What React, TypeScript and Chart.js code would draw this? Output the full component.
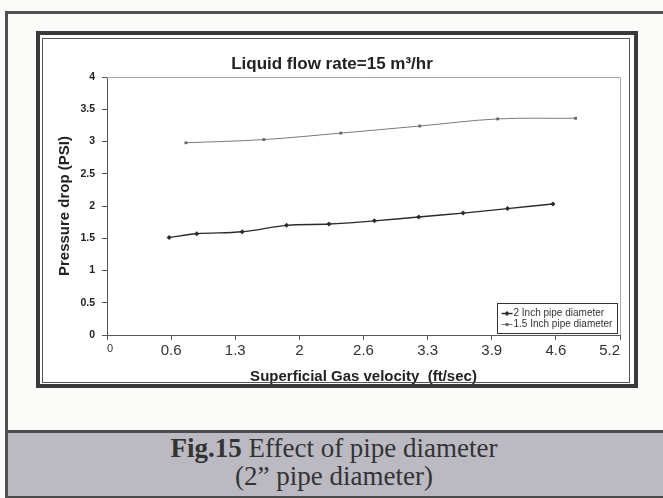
import React, { useEffect, useRef } from "react";
import { Chart, registerables } from "chart.js";

Chart.register(...registerables);

// ---- data ----
const chartTitle = "Liquid flow rate=15 m³/hr";
const xAxisTitle = "Superficial Gas velocity  (ft/sec)";
const yAxisTitle = "Pressure drop (PSI)";

const xTickValues = [0, 0.65, 1.3, 1.95, 2.6, 3.25, 3.9, 4.55, 5.2];
const xTickLabels = ["0", "0.6", "1.3", "2", "2.6", "3.3", "3.9", "4.6", "5.2"];
const yTickLabels = ["0", "0.5", "1", "1.5", "2", "2.5", "3", "3.5", "4"];

const series2InchLabel = "2 Inch pipe diameter";
const series2InchX = [0.63, 0.91, 1.37, 1.82, 2.25, 2.71, 3.16, 3.61, 4.06, 4.52];
const series2InchY = [1.51, 1.57, 1.6, 1.7, 1.72, 1.77, 1.83, 1.89, 1.96, 2.03];

const series15InchLabel = "1.5 Inch pipe diameter";
const series15InchX = [0.8, 1.59, 2.37, 3.17, 3.96, 4.75];
const series15InchY = [2.98, 3.03, 3.13, 3.24, 3.35, 3.36];

const captionBold = "Fig.15";
const captionRest = " Effect of pipe diameter";
const captionLine2 = "(2\u201D pipe diameter)";

const FONT = '"Liberation Sans", Arial, Helvetica, sans-serif';

const plotFramePlugin = {
  id: "plotFrame",
  beforeDatasetsDraw(chart: any) {
    const { ctx, chartArea } = chart;
    ctx.save();
    ctx.strokeStyle = "#a8a8a8";
    ctx.lineWidth = 1;
    ctx.beginPath();
    ctx.moveTo(chartArea.left, Math.round(chartArea.top) + 0.5);
    ctx.lineTo(Math.round(chartArea.right) + 0.5, Math.round(chartArea.top) + 0.5);
    ctx.lineTo(Math.round(chartArea.right) + 0.5, chartArea.bottom);
    ctx.stroke();
    ctx.restore();
  },
};

const boxLegendPlugin = {
  id: "boxLegend",
  afterDraw(chart: any) {
    const { ctx, chartArea } = chart;
    const w = 120;
    const h = 30;
    const x0 = Math.round(chartArea.right) - 123 + 0.5;
    const y0 = Math.round(chartArea.bottom) - 32 + 0.5;
    ctx.save();
    ctx.fillStyle = "#ffffff";
    ctx.fillRect(x0, y0, w, h);
    ctx.strokeStyle = "#333";
    ctx.lineWidth = 1;
    ctx.strokeRect(x0, y0, w, h);
    chart.data.datasets.forEach((ds: any, i: number) => {
      const cy = y0 + 10 + i * 11;
      ctx.strokeStyle = ds.borderColor;
      ctx.lineWidth = ds.borderWidth;
      ctx.beginPath();
      ctx.moveTo(x0 + 4, cy);
      ctx.lineTo(x0 + 15, cy);
      ctx.stroke();
      ctx.fillStyle = ds.backgroundColor;
      if (ds.pointStyle === "rectRot") {
        ctx.beginPath();
        ctx.moveTo(x0 + 9.5, cy - 2.5);
        ctx.lineTo(x0 + 12, cy);
        ctx.lineTo(x0 + 9.5, cy + 2.5);
        ctx.lineTo(x0 + 7, cy);
        ctx.closePath();
        ctx.fill();
      } else {
        ctx.fillRect(x0 + 8, cy - 1.5, 3, 3);
      }
      ctx.fillStyle = "#333";
      ctx.font = `10px ${FONT}`;
      ctx.textBaseline = "middle";
      ctx.textAlign = "left";
      ctx.fillText(ds.label, x0 + 16, cy);
    });
    ctx.restore();
  },
};

export default function App() {
  const ref = useRef<HTMLCanvasElement | null>(null);

  useEffect(() => {
    const canvas = ref.current;
    if (!canvas) return;
    const chart = new Chart(canvas, {
      type: "line",
      data: {
        datasets: [
          {
            label: series2InchLabel,
            data: series2InchX.map((x, i) => ({ x, y: series2InchY[i] })),
            borderColor: "#2b2b2b",
            backgroundColor: "#2b2b2b",
            borderWidth: 1.4,
            pointStyle: "rectRot",
            pointRadius: 2.5,
            pointBorderWidth: 0,
            tension: 0.35,
          },
          {
            label: series15InchLabel,
            data: series15InchX.map((x, i) => ({ x, y: series15InchY[i] })),
            borderColor: "#7a7a7a",
            backgroundColor: "#666666",
            borderWidth: 1,
            pointStyle: "rect",
            pointRadius: 2,
            pointBorderWidth: 0,
            tension: 0.35,
          },
        ],
      } as any,
      options: {
        responsive: false,
        maintainAspectRatio: false,
        animation: false,
        layout: { padding: { left: 0, right: 12, top: 0, bottom: 0 } },
        font: { family: FONT },
        plugins: {
          legend: { display: false },
          tooltip: { enabled: false },
          title: {
            display: true,
            text: chartTitle,
            color: "#222",
            font: { family: FONT, size: 17, weight: "bold" },
            padding: { top: 14.8, bottom: 2.8 },
          },
        },
        scales: {
          x: {
            type: "linear",
            min: 0,
            max: 5.2,
            afterBuildTicks: (s: any) => {
              s.ticks = xTickValues.map((v) => ({ value: v }));
            },
            afterFit: (s: any) => {
              s.height = 54;
            },
            ticks: {
              autoSkip: false,
              maxRotation: 0,
              padding: 2,
              align: "inner",
              color: "#333",
              font: (c: any) => ({ family: FONT, size: c.index === 0 ? 11 : 15 }),
              callback: (_v: any, i: number) => xTickLabels[i],
            },
            grid: { drawOnChartArea: false, tickLength: 5, color: "#555" },
            border: { display: true, color: "#555", width: 1 },
            title: {
              display: true,
              text: xAxisTitle,
              color: "#222",
              font: { family: FONT, size: 15, weight: "bold" },
              padding: { top: 0, bottom: 3 },
            },
          },
          y: {
            type: "linear",
            min: 0,
            max: 4,
            afterFit: (s: any) => {
              s.width = 63;
            },
            ticks: {
              stepSize: 0.5,
              padding: 7,
              color: "#222",
              font: { family: FONT, size: 10.5, weight: "bold" },
              callback: (_v: any, i: number) => yTickLabels[i],
            },
            grid: { drawOnChartArea: false, tickLength: 5, color: "#555" },
            border: { display: true, color: "#555", width: 1 },
            title: {
              display: true,
              text: yAxisTitle,
              color: "#222",
              font: { family: FONT, size: 15, weight: "bold" },
              padding: { top: 12, bottom: 0 },
            },
          },
        },
      } as any,
      plugins: [plotFramePlugin, boxLegendPlugin],
    });
    return () => chart.destroy();
  }, []);

  const abs = (s: React.CSSProperties): React.CSSProperties => ({ position: "absolute", ...s });

  return (
    <div
      style={{
        position: "absolute",
        left: 0,
        top: 0,
        width: 663,
        height: 498,
        overflow: "hidden",
        background: "#fbfbf9",
      }}
    >
      {/* outer frame */}
      <div style={abs({ left: 5, top: 11, width: 660, height: 3, background: "#505050" })} />
      {/* inner chart panel background */}
      <div style={abs({ left: 36, top: 31, width: 602, height: 357, background: "#ffffff" })} />
      {/* chart canvas */}
      <div style={abs({ left: 44, top: 39, width: 588, height: 350 })}>
        <canvas ref={ref} width={588} height={350} style={{ width: 588, height: 350, display: "block" }} />
      </div>
      {/* inner chart panel borders */}
      <div
        style={abs({
          left: 36,
          top: 31,
          width: 602,
          height: 357,
          border: "4px solid #3a3a3a",
          boxSizing: "border-box",
          pointerEvents: "none",
        })}
      />
      <div
        style={abs({
          left: 42,
          top: 38,
          width: 588,
          height: 345,
          border: "1px solid #555",
          boxSizing: "border-box",
          pointerEvents: "none",
        })}
      />
      {/* caption band */}
      <div
        style={abs({
          left: 5,
          top: 430,
          width: 658,
          height: 68,
          background: "#bbbac2",
          borderTop: "3px solid #4a4a4a",
          borderBottom: "2px solid #4a4a4a",
          boxSizing: "border-box",
          textAlign: "center",
          fontFamily: '"Liberation Serif", "Times New Roman", serif',
          fontSize: 27,
          lineHeight: "28px",
          color: "#333",
          paddingTop: 1,
        })}
      >
        <div>
          <b>{captionBold}</b>
          {captionRest}
        </div>
        <div>{captionLine2}</div>
      </div>
      <div style={abs({ left: 5, top: 11, width: 3, height: 487, background: "#505050" })} />
    </div>
  );
}
